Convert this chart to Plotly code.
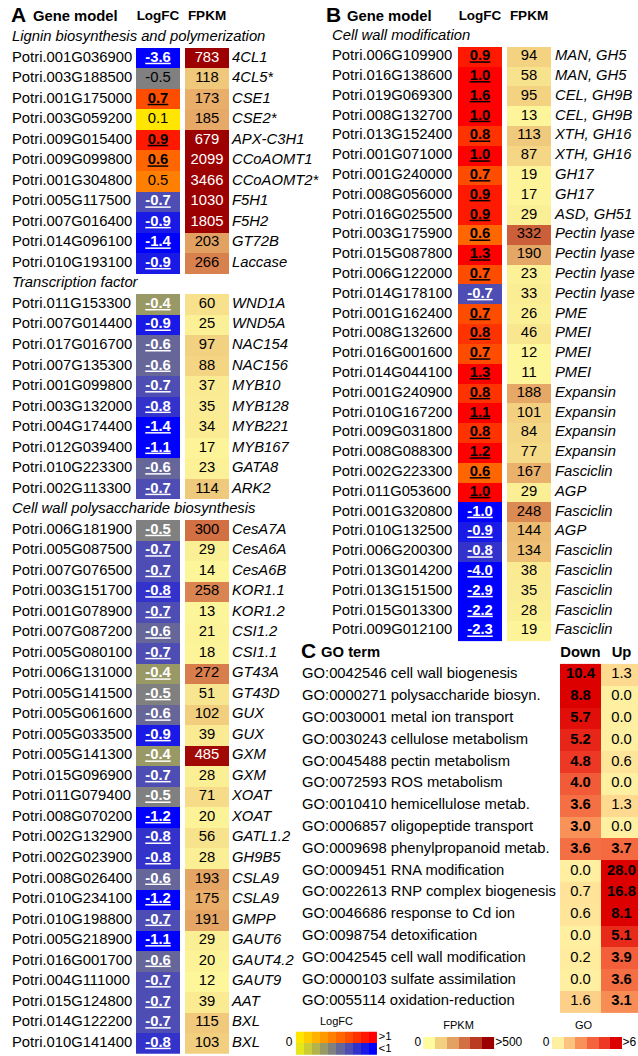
import plotly.graph_objects as go

W, H = 638, 1056
FONT = "Liberation Sans"
BODY = 14.8

# ---------------- Panel A data ----------------
a_section_titles = ["Lignin biosynthesis and polymerization",
                    "Transcription factor",
                    "Cell wall polysaccharide biosynthesis"]
a_section_sizes = [11, 10, 26]
a_ids = ["001G036900", "003G188500", "001G175000", "003G059200", "009G015400", "009G099800",
         "001G304800", "005G117500", "007G016400", "014G096100", "010G193100",
         "011G153300", "007G014400", "017G016700", "007G135300", "001G099800", "003G132000",
         "004G174400", "012G039400", "010G223300", "002G113300",
         "006G181900", "005G087500", "007G076500", "003G151700", "001G078900", "007G087200",
         "005G080100", "006G131000", "005G141500", "005G061600", "005G033500", "005G141300",
         "015G096900", "011G079400", "008G070200", "002G132900", "002G023900", "008G026400",
         "010G234100", "010G198800", "005G218900", "016G001700", "004G111000", "015G124800",
         "014G122200", "010G141400"]
a_logfc = [-3.6, -0.5, 0.7, 0.1, 0.9, 0.6, 0.5, -0.7, -0.9, -1.4, -0.9,
           -0.4, -0.9, -0.6, -0.6, -0.7, -0.8, -1.4, -1.1, -0.6, -0.7,
           -0.5, -0.7, -0.7, -0.8, -0.7, -0.6, -0.7, -0.4, -0.5, -0.6, -0.9, -0.4,
           -0.7, -0.5, -1.2, -0.8, -0.8, -0.6, -1.2, -0.7, -1.1, -0.6, -0.7, -0.7,
           -0.7, -0.8]
a_sig = [1, 0, 1, 0, 1, 1, 0, 1, 1, 1, 1,
         1, 1, 1, 1, 1, 1, 1, 1, 1, 1,
         1, 1, 1, 1, 1, 1, 1, 1, 1, 1, 1, 1,
         1, 1, 1, 1, 1, 1, 1, 1, 1, 1, 1, 1,
         1, 1]
a_fpkm = [783, 118, 173, 185, 679, 2099, 3466, 1030, 1805, 203, 266,
          60, 25, 97, 88, 37, 35, 34, 17, 23, 114,
          300, 29, 14, 258, 13, 21, 18, 272, 51, 102, 39, 485,
          28, 71, 20, 56, 28, 193, 175, 191, 29, 20, 12, 39,
          115, 103]
a_names = ["4CL1", "4CL5*", "CSE1", "CSE2*", "APX-C3H1", "CCoAOMT1", "CCoAOMT2*", "F5H1", "F5H2",
           "GT72B", "Laccase",
           "WND1A", "WND5A", "NAC154", "NAC156", "MYB10", "MYB128", "MYB221", "MYB167", "GATA8", "ARK2",
           "CesA7A", "CesA6A", "CesA6B", "KOR1.1", "KOR1.2", "CSI1.2", "CSI1.1", "GT43A", "GT43D",
           "GUX", "GUX", "GXM", "GXM", "XOAT", "XOAT", "GATL1.2", "GH9B5", "CSLA9", "CSLA9", "GMPP",
           "GAUT6", "GAUT4.2", "GAUT9", "AAT", "BXL", "BXL"]

# ---------------- Panel B data ----------------
b_section_titles = ["Cell wall modification"]
b_section_sizes = [30]
b_ids = ["006G109900", "016G138600", "019G069300", "008G132700", "013G152400", "001G071000",
         "001G240000", "008G056000", "016G025500", "003G175900", "015G087800", "006G122000",
         "014G178100", "001G162400", "008G132600", "016G001600", "014G044100", "001G240900",
         "010G167200", "009G031800", "008G088300", "002G223300", "011G053600", "001G320800",
         "010G132500", "006G200300", "013G014200", "013G151500", "015G013300", "009G012100"]
b_logfc = [0.9, 1.0, 1.6, 1.0, 0.8, 1.0, 0.7, 0.9, 0.9, 0.6, 1.3, 0.7, -0.7, 0.7, 0.8,
           0.7, 1.3, 0.8, 1.1, 0.8, 1.2, 0.6, 1.0, -1.0, -0.9, -0.8, -4.0, -2.9, -2.2, -2.3]
b_sig = [1] * 30
b_fpkm = [94, 58, 95, 13, 113, 87, 19, 17, 29, 332, 190, 23, 33, 26, 46,
          12, 11, 188, 101, 84, 77, 167, 29, 248, 144, 134, 38, 35, 28, 19]
b_names = ["MAN, GH5", "MAN, GH5", "CEL, GH9B", "CEL, GH9B", "XTH, GH16", "XTH, GH16", "GH17", "GH17",
           "ASD, GH51", "Pectin lyase", "Pectin lyase", "Pectin lyase", "Pectin lyase", "PME", "PMEI",
           "PMEI", "PMEI", "Expansin", "Expansin", "Expansin", "Expansin", "Fasciclin", "AGP",
           "Fasciclin", "AGP", "Fasciclin", "Fasciclin", "Fasciclin", "Fasciclin", "Fasciclin"]

# ---------------- Panel C data ----------------
go_terms = ["GO:0042546 cell wall biogenesis", "GO:0000271 polysaccharide biosyn.",
            "GO:0030001 metal ion transport", "GO:0030243 cellulose metabolism",
            "GO:0045488 pectin metabolism", "GO:0072593 ROS metabolism",
            "GO:0010410 hemicellulose metab.", "GO:0006857 oligopeptide transport",
            "GO:0009698 phenylpropanoid metab.", "GO:0009451 RNA modification",
            "GO:0022613 RNP complex biogenesis", "GO:0046686 response to Cd ion",
            "GO:0098754 detoxification", "GO:0042545 cell wall modification",
            "GO:0000103 sulfate assimilation", "GO:0055114 oxidation-reduction"]
go_down = [10.4, 8.8, 5.7, 5.2, 4.8, 4.0, 3.6, 3.0, 3.6, 0.0, 0.7, 0.6, 0.0, 0.2, 0.0, 1.6]
go_up = [1.3, 0.0, 0.0, 0.0, 0.6, 0.0, 1.3, 0.0, 3.7, 28.0, 16.8, 8.1, 5.1, 3.9, 3.6, 3.1]
go_columns = ["Down", "Up"]
GO_BOLD_MIN = 3.0

# ---------------- Legend keys ----------------
leg_logfc_pos = [0.1, 0.2, 0.3, 0.4, 0.5, 0.6, 0.7, 0.8, 0.9, 1.0]
leg_logfc_neg = [-0.1, -0.2, -0.3, -0.4, -0.5, -0.6, -0.7, -0.8, -0.9, -1.0]
leg_fpkm = [0, 100, 200, 300, 400, 500]
leg_go = [0, 2.0, 3.0, 3.8, 4.8, 6.0]

# ---------------- Colour scales ----------------
CS_LOGFC = [[0, "#0000FF"], [0.25, "#808080"], [0.5, "#FFFF00"], [1, "#FF0000"]]
CS_FPKM = [[0, "#FFFB9E"], [0.2, "#F2D080"], [0.4, "#E4A262"], [0.6, "#D27044"],
           [0.8, "#BA3A22"], [1, "#9C0000"]]
CS_GO = [[0, "#FFEFA0"], [0.22, "#FED990"], [0.35, "#FCC07E"], [0.5, "#F99258"],
         [0.63, "#F4643E"], [0.8, "#EC3824"], [1, "#DD0000"]]

fig = go.Figure()


def make_axes(n, x0, dx, y0, dy):
    s = "" if n == 1 else str(n)
    fig.update_layout(**{
        "xaxis" + s: dict(domain=[0, 1], range=[(0 - x0) / dx, (W - x0) / dx], visible=False,
                          fixedrange=True, anchor="y" + s),
        "yaxis" + s: dict(domain=[0, 1], range=[(H - y0) / dy, (0 - y0) / dy], visible=False,
                          fixedrange=True, anchor="x" + s),
    })
    return "x" + s, "y" + s


def text_trace(xa, ya, xs, ys, texts, pos="middle center", size=BODY, color="black"):
    fig.add_trace(go.Scatter(x=xs, y=ys, text=texts, mode="text", textposition=pos,
                             textfont=dict(family=FONT, size=size, color=color),
                             xaxis=xa, yaxis=ya, hoverinfo="skip", cliponaxis=False,
                             showlegend=False))


def layout_rows(sizes):
    sec_rows, gene_rows = [], []
    r = 1
    for n in sizes:
        sec_rows.append(r)
        r += 1
        gene_rows.extend(range(r, r + n))
        r += n
    return sec_rows, gene_rows, r


def gene_panel(n, geo, letter, titles, sizes, ids, logfc, sig, fpkm, names):
    x0, dx, y0, dy = geo["x0"], geo["dx"], geo["y0"], geo["dy"]
    xa, ya = make_axes(n, x0, dx, y0, dy)
    px = lambda p: (p - x0) / dx
    sec_rows, gene_rows, nrows = layout_rows(sizes)
    hw = geo["cell_w"] / 2 / dx
    z1 = [[None] for _ in range(nrows)]
    z2 = [[None] for _ in range(nrows)]
    for i, r in enumerate(gene_rows):
        z1[r] = [logfc[i]]
        z2[r] = [fpkm[i]]
    fig.add_trace(go.Heatmap(z=z1, x=[-hw, hw], y0=0, dy=1, colorscale=CS_LOGFC, zmin=-1, zmax=1,
                             showscale=False, hoverinfo="skip", xaxis=xa, yaxis=ya))
    fig.add_trace(go.Heatmap(z=z2, x=[1 - hw, 1 + hw], y0=0, dy=1, colorscale=CS_FPKM, zmin=0,
                             zmax=500, showscale=False, hoverinfo="skip", xaxis=xa, yaxis=ya))
    # header
    text_trace(xa, ya, [px(geo["letter"])], [0], ["<b>%s</b>" % letter], "middle right", 21)
    text_trace(xa, ya, [px(geo["model"])], [0], ["<b>Gene model</b>"], "middle right", BODY)
    text_trace(xa, ya, [0, 1], [0, 0], ["<b>LogFC</b>", "<b>FPKM</b>"], "middle center", 13.5)
    # section titles
    text_trace(xa, ya, [px(geo["ids"])] * len(sec_rows), sec_rows,
               ["<i>%s</i>" % t for t in titles], "middle right", BODY)
    # gene ids
    text_trace(xa, ya, [px(geo["ids"])] * len(gene_rows), gene_rows,
               ["Potri." + g for g in ids], "middle right", BODY)
    # logFC values
    lt = [("<b><u>%.1f</u></b>" % v) if s else ("%.1f" % v) for v, s in zip(logfc, sig)]
    lc = ["white" if (s and v < 0) else "black" for v, s in zip(logfc, sig)]
    text_trace(xa, ya, [0] * len(gene_rows), gene_rows, lt, "middle center", BODY, lc)
    # FPKM values
    fc = ["white" if v >= 400 else "black" for v in fpkm]
    text_trace(xa, ya, [1] * len(gene_rows), gene_rows, [str(v) for v in fpkm],
               "middle center", BODY, fc)
    # gene names
    text_trace(xa, ya, [px(geo["names"])] * len(gene_rows), gene_rows,
               ["<i>%s</i>" % t for t in names], "middle right", BODY)


GEO_A = dict(x0=158, dx=49, y0=17, dy=20.52, cell_w=44, letter=11, model=33, ids=12, names=232)
GEO_B = dict(x0=480, dx=49, y0=17, dy=19.8, cell_w=44, letter=326, model=347, ids=332, names=555)

gene_panel(1, GEO_A, "A", a_section_titles, a_section_sizes, a_ids, a_logfc, a_sig, a_fpkm, a_names)
gene_panel(2, GEO_B, "B", b_section_titles, b_section_sizes, b_ids, b_logfc, b_sig, b_fpkm, b_names)

# ---------------- Panel C ----------------
GEO_C = dict(x0=580.5, dx=41, y0=653, dy=21.8, letter=301, header=321, terms=302)
xc, yc = make_axes(3, GEO_C["x0"], GEO_C["dx"], GEO_C["y0"], GEO_C["dy"])
pxc = lambda p: (p - GEO_C["x0"]) / GEO_C["dx"]
rows_c = list(range(1, len(go_terms) + 1))
zc = [[d, u] for d, u in zip(go_down, go_up)]
fig.add_trace(go.Heatmap(z=zc, x=[-0.5, 0.5, 1.5], y0=1, dy=1, colorscale=CS_GO, zmin=0, zmax=6,
                         showscale=False, hoverinfo="skip", xaxis=xc, yaxis=yc))
text_trace(xc, yc, [pxc(GEO_C["letter"])], [0], ["<b>C</b>"], "middle right", 21)
text_trace(xc, yc, [pxc(GEO_C["header"])], [0], ["<b>GO term</b>"], "middle right", BODY)
text_trace(xc, yc, [0, 1], [0, 0], ["<b>%s</b>" % c for c in go_columns], "middle center", BODY)
text_trace(xc, yc, [pxc(GEO_C["terms"])] * len(go_terms), rows_c, go_terms, "middle right", BODY)
fmt_go = lambda v: ("<b>%.1f</b>" % v) if v >= GO_BOLD_MIN else ("%.1f" % v)
text_trace(xc, yc, [0] * len(rows_c), rows_c, [fmt_go(v) for v in go_down], "middle center", BODY)
text_trace(xc, yc, [1] * len(rows_c), rows_c, [fmt_go(v) for v in go_up], "middle center", BODY)

# ---------------- Legends ----------------
LEG_T = 11
LEG = 12
# LogFC key
xl, yl = make_axes(4, 300, 8.1, 1037.5, 11.5)
fig.add_trace(go.Heatmap(z=[leg_logfc_pos, leg_logfc_neg], x0=0, dx=1, y0=0, dy=1,
                         colorscale=CS_LOGFC, zmin=-1, zmax=1, showscale=False, hoverinfo="skip",
                         xaxis=xl, yaxis=yl))
text_trace(xl, yl, [4.5], [-1.35], ["LogFC"], "middle center", LEG_T)
text_trace(xl, yl, [-1.35], [0.5], ["0"], "middle center", LEG)
text_trace(xl, yl, [9.7, 9.7], [-0.05, 1.05], ["&gt;1", "&lt;1"], "middle right", 11.5)
# FPKM key
xf, yf = make_axes(5, 429, 11.83, 1043, 12)
fig.add_trace(go.Heatmap(z=[leg_fpkm], x0=0, dx=1, y0=0, dy=1, colorscale=CS_FPKM, zmin=0, zmax=500,
                         showscale=False, hoverinfo="skip", xaxis=xf, yaxis=yf))
text_trace(xf, yf, [2.5], [-1.42], ["FPKM"], "middle center", LEG_T)
text_trace(xf, yf, [-0.95], [0], ["0"], "middle center", LEG)
text_trace(xf, yf, [5.6], [0], ["&gt;500"], "middle right", LEG)
# GO key
xg, yg = make_axes(6, 557.8, 11.67, 1043, 12)
fig.add_trace(go.Heatmap(z=[leg_go], x0=0, dx=1, y0=0, dy=1, colorscale=CS_GO, zmin=0, zmax=6,
                         showscale=False, hoverinfo="skip", xaxis=xg, yaxis=yg))
text_trace(xg, yg, [2.2], [-1.42], ["GO"], "middle center", LEG_T)
text_trace(xg, yg, [-1.0], [0], ["0"], "middle center", LEG)
text_trace(xg, yg, [5.55], [0], ["&gt;6"], "middle right", LEG)

fig.update_layout(width=W, height=H, margin=dict(l=0, r=0, t=0, b=0),
                  paper_bgcolor="white", plot_bgcolor="rgba(0,0,0,0)",
                  showlegend=False, hovermode=False, font=dict(family=FONT))
fig.write_html("out.html", config={"displayModeBar": False},
               post_script="document.body.style.margin='0';document.body.style.overflow='hidden';")
